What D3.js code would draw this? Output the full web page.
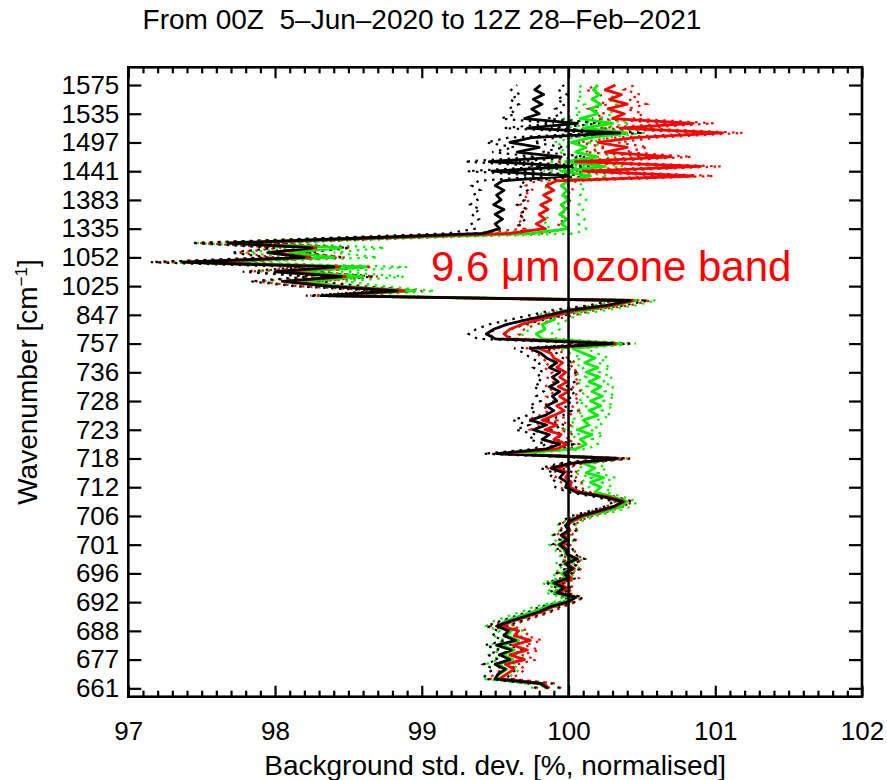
<!DOCTYPE html>
<html>
<head>
<meta charset="utf-8">
<script src="https://cdn.jsdelivr.net/npm/d3@7"></script>
<style>
  html, body { margin: 0; padding: 0; background: #ffffff; }
  svg { display: block; }
  text { font-family: "Liberation Sans", Arial, Helvetica, sans-serif; fill: #000; }
</style>
</head>
<body>
<svg id="chart" width="887" height="780"></svg>
<script>
// ---- Data -------------------------------------------------------------
// Channel positions carrying a wavenumber label, and those labels.
const tickChannels = [0, 6, 12, 18, 24, 30, 36, 42, 48, 54, 60, 66, 72, 78, 84, 90, 96, 102, 108, 114, 120, 126];
const tickLabels = ["661", "677", "688", "692", "696", "701", "706", "712", "718", "723", "728",
                    "736", "757", "847", "1025", "1052", "1335", "1383", "1441", "1497", "1535", "1575"];
const xTicks = [97, 98, 99, 100, 101, 102];

// Normalised background std. dev. (%) per channel, bottom (661 cm-1) to top (1575 cm-1).
const blackValues = [
  99.86, 99.81, 99.50, 99.52, 99.57, 99.50, 99.60, 99.53, 99.61, 99.51,
  99.64, 99.56, 99.59, 99.51, 99.60, 99.70, 99.80, 99.87, 99.99, 100.05,
  99.92, 99.97, 99.90, 100.00, 99.97, 100.03, 99.98, 100.06, 99.99, 99.98,
  99.94, 99.99, 99.95, 100.00, 99.98, 100.01, 100.08, 100.20, 100.31, 100.37,
  100.24, 100.05, 99.98, 99.99, 99.94, 99.97, 99.88, 100.01, 100.33, 99.51,
  99.85, 99.94, 99.82, 99.87, 99.76, 99.85, 99.74, 99.84, 99.90, 99.85,
  99.92, 99.89, 99.94, 99.87, 99.93, 99.89, 99.94, 99.87, 99.92, 99.85,
  99.81, 99.74, 100.30, 99.50, 99.44, 99.49, 99.58, 99.72, 99.87, 100.01,
  100.26, 100.42, 98.33, 98.83, 98.35, 98.05, 98.45, 98.00, 98.40, 97.37,
  98.20, 97.95, 98.25, 97.68, 98.55, 99.42, 99.53, 99.50, 99.55, 99.50,
  99.56, 99.49, 99.54, 99.51, 99.56, 99.50, 99.55, 100.00, 99.48, 100.02,
  99.46, 99.95, 99.65, 99.80, 99.60, 99.75, 100.35, 99.72, 100.06, 99.70,
  99.80, 99.75, 99.82, 99.76, 99.83, 99.77, 99.81
];
const redValues = [
  99.87, 99.83, 99.53, 99.58, 99.63, 99.57, 99.70, 99.60, 99.72, 99.62,
  99.74, 99.63, 99.66, 99.54, 99.62, 99.72, 99.82, 99.89, 100.00, 100.05,
  99.94, 99.99, 99.92, 100.02, 99.98, 100.04, 99.99, 100.05, 100.00, 99.99,
  99.96, 100.00, 99.97, 100.01, 99.99, 100.03, 100.10, 100.22, 100.32, 100.38,
  100.27, 100.08, 100.01, 100.02, 99.98, 100.00, 99.92, 100.03, 100.34, 99.55,
  99.92, 99.99, 99.90, 99.95, 99.84, 99.92, 99.82, 99.90, 99.97, 99.92,
  99.99, 99.94, 100.00, 99.93, 99.99, 99.94, 99.98, 99.92, 99.96, 99.90,
  99.88, 99.80, 100.32, 99.60, 99.56, 99.60, 99.68, 99.80, 99.93, 100.06,
  100.30, 100.44, 98.36, 98.88, 98.38, 98.09, 98.48, 98.04, 98.44, 97.40,
  98.24, 97.98, 98.28, 97.72, 98.60, 99.60, 99.84, 99.78, 99.84, 99.80,
  99.86, 99.81, 99.88, 99.83, 99.90, 99.85, 99.92, 100.85, 100.10, 100.90,
  100.05, 100.70, 100.25, 100.40, 100.20, 100.45, 101.05, 100.35, 100.85, 100.30,
  100.38, 100.27, 100.40, 100.28, 100.36, 100.25, 100.32
];
const greenValues = [
  99.85, 99.80, 99.50, 99.53, 99.58, 99.52, 99.62, 99.55, 99.63, 99.54,
  99.66, 99.58, 99.61, 99.52, 99.57, 99.66, 99.76, 99.84, 99.96, 100.02,
  99.90, 99.96, 99.88, 99.99, 99.95, 100.02, 99.97, 100.04, 99.98, 99.97,
  99.93, 99.98, 99.95, 100.00, 99.98, 100.04, 100.12, 100.26, 100.36, 100.40,
  100.30, 100.18, 100.22, 100.15, 100.24, 100.12, 100.18, 100.10, 100.32, 99.60,
  100.05, 100.12, 100.08, 100.16, 100.06, 100.14, 100.10, 100.20, 100.14, 100.22,
  100.15, 100.23, 100.16, 100.22, 100.14, 100.21, 100.12, 100.20, 100.11, 100.18,
  100.10, 100.03, 100.36, 99.82, 99.78, 99.84, 99.82, 99.90, 99.92, 100.12,
  100.32, 100.46, 98.40, 98.95, 98.45, 98.20, 98.60, 98.15, 98.62, 97.45,
  98.40, 98.10, 98.45, 97.76, 98.65, 99.75, 100.00, 99.95, 99.99, 99.94,
  99.98, 99.95, 100.00, 99.96, 99.99, 99.95, 100.00, 100.15, 99.95, 100.25,
  99.98, 100.20, 100.05, 100.12, 100.02, 100.15, 100.40, 100.10, 100.30, 100.08,
  100.20, 100.15, 100.22, 100.16, 100.21, 100.17, 100.20
];

// Half-width of the dotted envelope, one value per labelled wavenumber band.
const blackSpread = [0.08, 0.08, 0.07, 0.05, 0.05, 0.05, 0.06, 0.07, 0.09, 0.12, 0.11,
                     0.11, 0.12, 0.12, 0.22, 0.25, 0.16, 0.16, 0.17, 0.16, 0.16, 0.16];
const redSpread   = [0.08, 0.08, 0.07, 0.05, 0.05, 0.05, 0.06, 0.07, 0.08, 0.10, 0.09,
                     0.09, 0.10, 0.12, 0.22, 0.24, 0.14, 0.14, 0.14, 0.14, 0.13, 0.13];
const greenSpread = [0.09, 0.09, 0.08, 0.06, 0.06, 0.06, 0.07, 0.08, 0.08, 0.09, 0.09,
                     0.09, 0.10, 0.14, 0.28, 0.30, 0.12, 0.12, 0.12, 0.12, 0.11, 0.11];

// ---- Layout -----------------------------------------------------------
const svg = d3.select("#chart");
const plot = { left: 128.3, right: 862, top: 67.3, bottom: 696.7 };

const x = d3.scaleLinear().domain([97, 102]).range([plot.left, plot.right]);
const y = d3.scaleLinear().domain([-1.75, 129.7]).range([plot.bottom, plot.top]);

svg.append("rect").attr("width", 887).attr("height", 780).attr("fill", "#fff");

svg.append("defs").append("clipPath").attr("id", "plotClip")
  .append("rect")
  .attr("x", plot.left).attr("y", plot.top)
  .attr("width", plot.right - plot.left).attr("height", plot.bottom - plot.top);

// ---- Series -----------------------------------------------------------
const bandWidth = tickChannels[1] - tickChannels[0];
const series = [
  { values: greenValues, spread: greenSpread, color: "#00ee00" },
  { values: redValues,   spread: redSpread,   color: "#ff0000" },
  { values: blackValues, spread: blackSpread, color: "#000000" }
];

const line = d3.line().x(d => x(d.v)).y(d => y(d.c));
const dataLayer = svg.append("g").attr("clip-path", "url(#plotClip)");

series.forEach(s => {
  const pts = s.values.map((v, c) => ({ c, v, s: s.spread[Math.floor(c / bandWidth)] }));
  const lower = pts.map(p => ({ c: p.c, v: p.v - p.s }));
  const upper = pts.map(p => ({ c: p.c, v: p.v + p.s }));
  [lower, upper].forEach(env => {
    dataLayer.append("path")
      .attr("d", line(env))
      .attr("fill", "none")
      .attr("stroke", s.color)
      .attr("stroke-width", 2.2)
      .attr("stroke-dasharray", "2.5,5.5");
  });
});
series.forEach(s => {
  const pts = s.values.map((v, c) => ({ c, v }));
  dataLayer.append("path")
    .attr("d", line(pts))
    .attr("fill", "none")
    .attr("stroke", s.color)
    .attr("stroke-width", 2.8)
    .attr("stroke-linejoin", "round");
});

// Reference line at 100 %
svg.append("line")
  .attr("x1", x(100)).attr("x2", x(100))
  .attr("y1", plot.top).attr("y2", plot.bottom)
  .attr("stroke", "#000").attr("stroke-width", 2.5);

// ---- Axes -------------------------------------------------------------
const minorTicks = d3.range(970, 1021).map(d => d / 10).filter(d => Math.abs(d - Math.round(d)) > 1e-6);

function styleAxis(g) {
  g.select(".domain").remove();
  g.selectAll(".tick line").attr("stroke", "#000").attr("stroke-width", 2.2);
  g.selectAll(".tick text").style("font-family", '"Liberation Sans", Arial, sans-serif')
    .style("font-size", "26px").attr("fill", "#000");
}

// bottom
svg.append("g").attr("transform", `translate(0,${plot.bottom})`)
  .call(d3.axisBottom(x).tickValues(xTicks).tickFormat(d3.format("d")).tickSize(-11).tickPadding(25))
  .call(styleAxis);
svg.append("g").attr("transform", `translate(0,${plot.bottom})`)
  .call(d3.axisBottom(x).tickValues(minorTicks).tickFormat("").tickSize(-6))
  .call(styleAxis);
// top
svg.append("g").attr("transform", `translate(0,${plot.top})`)
  .call(d3.axisTop(x).tickValues(xTicks).tickFormat("").tickSize(-11))
  .call(styleAxis);
svg.append("g").attr("transform", `translate(0,${plot.top})`)
  .call(d3.axisTop(x).tickValues(minorTicks).tickFormat("").tickSize(-6))
  .call(styleAxis);
// left
svg.append("g").attr("transform", `translate(${plot.left},0)`)
  .call(d3.axisLeft(y).tickValues(tickChannels).tickFormat((d, i) => tickLabels[i]).tickSize(-13).tickPadding(9))
  .call(styleAxis);
// right
svg.append("g").attr("transform", `translate(${plot.right},0)`)
  .call(d3.axisRight(y).tickValues(tickChannels).tickFormat("").tickSize(-13))
  .call(styleAxis);

// frame
svg.append("rect")
  .attr("x", plot.left).attr("y", plot.top)
  .attr("width", plot.right - plot.left).attr("height", plot.bottom - plot.top)
  .attr("fill", "none").attr("stroke", "#000").attr("stroke-width", 2.6);

// ---- Text -------------------------------------------------------------
svg.append("text")
  .attr("x", 422).attr("y", 29)
  .attr("text-anchor", "middle")
  .style("font-size", "28px")
  .text("From 00Z\u00a0\u00a05\u2013Jun\u20132020 to 12Z 28\u2013Feb\u20132021");

svg.append("text")
  .attr("x", (plot.left + plot.right) / 2).attr("y", 775)
  .attr("text-anchor", "middle")
  .style("font-size", "28px")
  .text("Background std. dev. [%, normalised]");

const yTitle = svg.append("text")
  .attr("transform", `translate(37,${(plot.top + plot.bottom) / 2}) rotate(-90)`)
  .attr("text-anchor", "middle")
  .style("font-size", "28px");
yTitle.append("tspan").text("Wavenumber [cm");
yTitle.append("tspan").attr("dy", -10).style("font-size", "17px").text("\u22121");
yTitle.append("tspan").attr("dy", 10).text("]");

svg.append("text")
  .attr("x", 431).attr("y", 281)
  .style("font-size", "42px")
  .style("fill", "#ff0000")
  .text("9.6 \u03bcm ozone band");
</script>
</body>
</html>
